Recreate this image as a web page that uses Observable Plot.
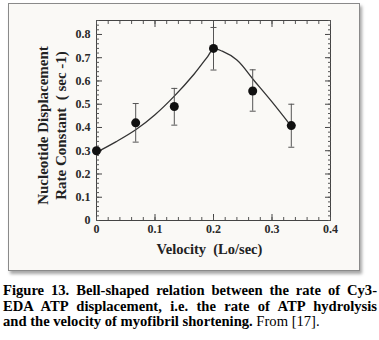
<!DOCTYPE html>
<html>
<head>
<meta charset="utf-8">
<script src="https://cdn.jsdelivr.net/npm/d3@7"></script>
<script src="https://cdn.jsdelivr.net/npm/@observablehq/plot@0.6"></script>
<style>
  html, body { margin: 0; padding: 0; background: #ffffff; }
  #wrap { position: relative; width: 379px; height: 340px; overflow: hidden; }
  #box { position: absolute; left: 8px; top: 3px; width: 350px; height: 266px;
         border: 1px solid #8a8a8a; background: #faf9f6;
         box-shadow: 2px 3px 3px rgba(0,0,0,0.35); }
  #chart { position: absolute; left: 0; top: 0; }
  #caption { position: absolute; left: 3px; top: 283px; width: 374px;
             font-family: "Liberation Serif", "Times New Roman", serif;
             font-size: 14.6px; line-height: 15.5px; color: #000; }
  #caption div { white-space: nowrap; height: 15.5px; }
  b { font-weight: bold; }
</style>
</head>
<body>
<div id="wrap">
  <div id="box"></div>
  <div id="chart"></div>
  <div id="caption">
    <div class="fit"><b>Figure 13. Bell-shaped relation between the rate of Cy3-</b></div>
    <div class="fit"><b>EDA ATP displacement, i.e. the rate of ATP hydrolysis</b></div>
    <div><b>and the velocity of myofibril shortening.</b> From [17].</div>
  </div>
</div>
<script>
// Measured points with error bars
const velocity = [0, 0.067, 0.133, 0.2, 0.267, 0.333];
const rate     = [0.30, 0.42, 0.49, 0.74, 0.557, 0.408];
const errLow   = [0.30, 0.337, 0.41, 0.647, 0.47, 0.315];
const errHigh  = [0.30, 0.503, 0.568, 0.83, 0.648, 0.50];

// Fitted curve
const curveX = [0, 0.033, 0.067, 0.1, 0.133, 0.167, 0.19, 0.2, 0.215, 0.24, 0.27, 0.3, 0.333];
const curveY = [0.293, 0.338, 0.39, 0.455, 0.535, 0.63, 0.705, 0.738, 0.728, 0.69, 0.60, 0.51, 0.405];

const xMajor = [0, 0.1, 0.2, 0.3, 0.4];
const yMajor = [0, 0.1, 0.2, 0.3, 0.4, 0.5, 0.6, 0.7, 0.8];
const xMinor = d3.range(0, 0.4001, 0.02);
const yMinor = d3.range(0, 0.8601, 0.02);

const points = velocity.map((v, i) => ({x: v, y: rate[i], lo: errLow[i], hi: errHigh[i]}));
const curve = curveX.map((v, i) => ({x: v, y: curveY[i]}));
const bars = points.filter(d => d.hi > d.lo);

const cap = { draw(ctx, size) { const r = 3; ctx.moveTo(-r, 0); ctx.lineTo(r, 0); } };
const fmt = d => d === 0 ? "0" : d.toFixed(1);

const font = "'Liberation Serif', 'Times New Roman', serif";
const ink = "#2a2a2a";

const plot = Plot.plot({
  width: 379,
  height: 272,
  marginLeft: 96,
  marginRight: 49,
  marginTop: 20,
  marginBottom: 52,
  style: { background: "transparent", fontFamily: font, color: ink, fontWeight: "bold", fontSize: "12px" },
  x: { domain: [0, 0.4] },
  y: { domain: [0, 0.86] },
  marks: [
    Plot.frame({ stroke: "#444", strokeWidth: 1 }),
    // major ticks with labels (inward)
    Plot.axisX(xMajor, { anchor: "bottom", tickSize: -6, tickPadding: 10, tickFormat: fmt, stroke: "#444", fontSize: 12, fontWeight: "bold", label: null }),
    Plot.axisY(yMajor, { anchor: "left", tickSize: -6, tickPadding: 12, tickFormat: fmt, stroke: "#444", fontSize: 12, fontWeight: "bold", label: null }),
    Plot.axisX(xMajor, { anchor: "top", tickSize: -6, tickFormat: () => "", stroke: "#444", label: null }),
    Plot.axisY(yMajor, { anchor: "right", tickSize: -6, tickFormat: () => "", stroke: "#444", label: null }),
    // minor ticks
    Plot.axisX(xMinor, { anchor: "bottom", tickSize: -3, tickFormat: () => "", stroke: "#555", label: null }),
    Plot.axisX(xMinor, { anchor: "top", tickSize: -3, tickFormat: () => "", stroke: "#555", label: null }),
    Plot.axisY(yMinor, { anchor: "left", tickSize: -3, tickFormat: () => "", stroke: "#555", label: null }),
    Plot.axisY(yMinor, { anchor: "right", tickSize: -3, tickFormat: () => "", stroke: "#555", label: null }),
    // fitted curve
    Plot.line(curve, { x: "x", y: "y", curve: "catmull-rom", stroke: "#333", strokeWidth: 1.3 }),
    // error bars
    Plot.ruleX(bars, { x: "x", y1: "lo", y2: "hi", stroke: "#555", strokeWidth: 1 }),
    Plot.dot(bars, { x: "x", y: "hi", symbol: cap, stroke: "#555", strokeWidth: 1, fill: "none" }),
    Plot.dot(bars, { x: "x", y: "lo", symbol: cap, stroke: "#555", strokeWidth: 1, fill: "none" }),
    // points
    Plot.dot(points, { x: "x", y: "y", r: 4.5, fill: "#111", stroke: "none" }),
    // axis titles
    Plot.text(["Nucleotide Displacement\nRate Constant  ( sec -1)"], {
      frameAnchor: "left", textAnchor: "middle", lineAnchor: "middle", rotate: -90, dx: -45, dy: 5, text: d => d,
      fontSize: 15, fontWeight: "bold", fill: "#222", lineHeight: 1.15, fontFamily: font
    }),
    Plot.text(["Velocity  (Lo/sec)"], {
      frameAnchor: "bottom", dy: 33, dx: -4, text: d => d,
      fontSize: 14.5, fontWeight: "bold", fill: "#222", fontFamily: font
    })
  ]
});
document.getElementById("chart").appendChild(plot);

// fit the two justified caption lines to the full width
const target = 374;
document.querySelectorAll("#caption .fit").forEach(div => {
  const span = div.firstElementChild;
  const w = span.getBoundingClientRect().width;
  const txt = span.textContent;
  if (w > target) {
    span.style.letterSpacing = ((target - w) / txt.length) + "px";
  } else {
    const gaps = (txt.match(/ /g) || []).length;
    span.style.wordSpacing = ((target - w) / gaps) + "px";
  }
});
</script>
</body>
</html>
